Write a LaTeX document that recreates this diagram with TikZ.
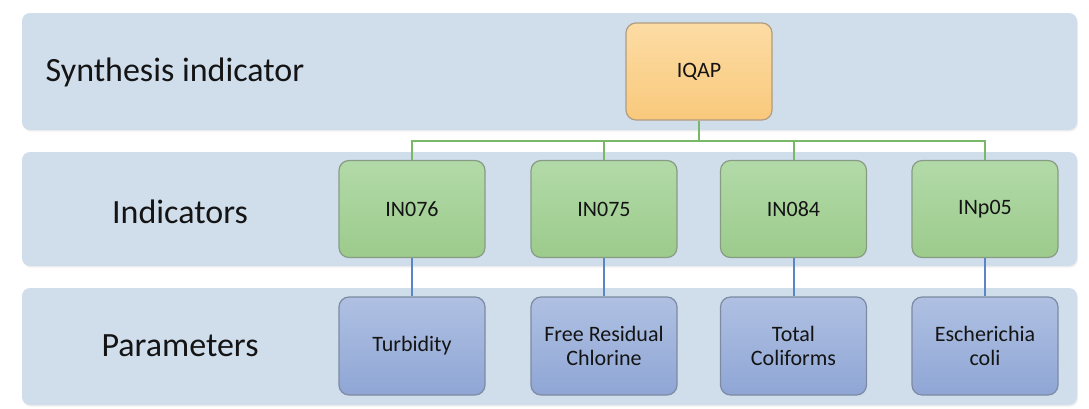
\documentclass[tikz,border=0pt]{standalone}
\usepackage{fontspec}
\setmainfont{Carlito}
\usetikzlibrary{shadows}
\definecolor{bandfill}{HTML}{D0DEEC}
\definecolor{txt}{HTML}{141414}
\definecolor{otop}{HTML}{FCDCA4}
\definecolor{obot}{HTML}{F9C97C}
\definecolor{oline}{HTML}{B09C80}
\definecolor{gtop}{HTML}{B2DAA8}
\definecolor{gbot}{HTML}{9CCB8C}
\definecolor{gedge}{HTML}{889C84}
\definecolor{btop}{HTML}{AFC0E2}
\definecolor{bbot}{HTML}{8FA6D5}
\definecolor{bedge}{HTML}{7D8AA2}
\definecolor{gconn}{HTML}{79B866}
\definecolor{bconn}{HTML}{5A86C6}
\tikzset{
  band/.style={fill=bandfill, draw=none, rounded corners=8pt,
    drop shadow={opacity=0.12, shadow xshift=1pt, shadow yshift=-1.5pt}},
  bandlabel/.style={font=\fontsize{34}{37}\selectfont, text=txt, anchor=center},
  boxbase/.style={rounded corners=10pt, line width=1.2pt, minimum width=146pt,
    minimum height=97pt, align=center, text=txt,
    font=\fontsize{22}{23.5}\selectfont, inner sep=0pt},
  orangebox/.style={boxbase, top color=otop, bottom color=obot, draw=oline},
  greenbox/.style={boxbase, top color=gtop, bottom color=gbot, draw=gedge},
  bluebox/.style={boxbase, top color=btop, bottom color=bbot, draw=bedge, minimum height=98pt},
  gline/.style={draw=gconn, line width=2pt},
  bline/.style={draw=bconn, line width=2pt},
}
\begin{document}
\begin{tikzpicture}[x=1pt,y=-1pt]
\useasboundingbox[fill=white] (0,0) rectangle (1089,408);
% bands
\path[band] (22,13) rectangle (1077,130);
\path[band] (22,152) rectangle (1077,266);
\path[band] (22,288) rectangle (1077,405);
\node[bandlabel] (l1) at (175,72) {Synthesis indicator};
\node[bandlabel] (l2) at (180,212) {Indicators};
\node[bandlabel] (l3) at (180,346) {Parameters};
% nodes
\node[orangebox] (iqap) at (699,71.5) {IQAP};
\node[greenbox] (in076) at (412,209) {IN076};
\node[greenbox] (in075) at (604,209) {IN075};
\node[greenbox] (in084) at (793.5,209) {IN084};
\node[greenbox] (inp05) at (985,209) {INp05};
\node[bluebox] (p1) at (412,346) {Turbidity};
\node[bluebox] (p2) at (604,346) {Free Residual\\Chlorine};
\node[bluebox] (p3) at (793.5,346) {Total\\Coliforms};
\node[bluebox] (p4) at (985,346) {Escherichia\\coli};
% connectors
\coordinate (bus) at (699,141);
\draw[gline] (iqap.south) -- (bus);
\draw[gline] (in076.north) |- (bus) -| (inp05.north);
\draw[gline] (in075.north) -- (in075.north |- bus);
\draw[gline] (in084.north) -- (in084.north |- bus);
\draw[bline] (in076.south) -- (p1.north);
\draw[bline] (in075.south) -- (p2.north);
\draw[bline] (in084.south) -- (p3.north);
\draw[bline] (inp05.south) -- (p4.north);
\end{tikzpicture}
\end{document}
